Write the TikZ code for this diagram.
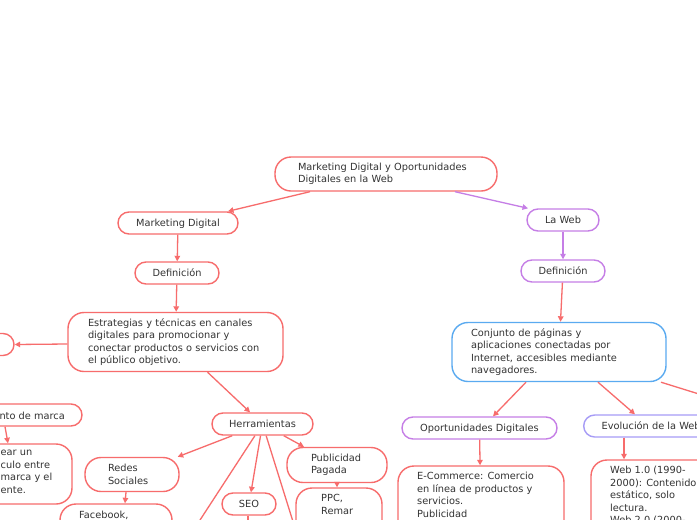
\documentclass[tikz,border=0pt]{standalone}
\usepackage{fontspec}
\setmainfont{DejaVu Sans}
\usetikzlibrary{arrows.meta}
\definecolor{cred}{HTML}{F76C6C}
\definecolor{cpur}{HTML}{C57EE6}
\definecolor{cblue}{HTML}{5AAAF0}
\definecolor{clav}{HTML}{A79CF6}
\definecolor{ctext}{HTML}{333333}
\begin{document}
\begin{tikzpicture}[x=1pt,y=-1pt,
  every node/.style={font=\fontsize{9.8}{12.5}\selectfont, text=ctext},
  basebox/.style={draw=cred, line width=1.4pt, fill=white, inner sep=0pt},
  box/.style={basebox, rounded corners=11pt, text depth=0pt},
  bigbox/.style={basebox, rounded corners=16pt},
  txt/.style={inner sep=0pt, align=left, anchor=north west},
  conn/.style={draw=cred, line width=1.3pt, -{Triangle[length=5.5pt,width=5.5pt]}},
  pconn/.style={conn, draw=cpur}
]
\fill[white] (0,0) rectangle (697,520);
\useasboundingbox (0,0) rectangle (697,520);

% left branch
\node[bigbox, minimum width=222pt, minimum height=34pt, inner xsep=23pt, text width=176pt, align=left] (root) at (386,174) {\mbox{Marketing Digital y Oportunidades}\\Digitales en la Web};
\node[box, minimum width=120pt, minimum height=22pt] (md) at (178,223) {Marketing Digital};
\node[box, minimum width=84pt, minimum height=22pt] (def1) at (177,273) {Definición};
\node[bigbox, minimum width=215pt, minimum height=59pt, inner xsep=20pt, text width=175pt, align=left] (estr) at (175.5,342) {\mbox{Estrategias y técnicas en canales}\\\mbox{digitales para promocionar y}\\\mbox{conectar productos o servicios con}\\\mbox{el público objetivo.}};
\node[box, minimum width=80pt, minimum height=22pt] (leftnode) at (-26,344.5) {};
\node[box, minimum width=142pt, minimum height=22pt] (marca) at (11,415) {};
\node[inner sep=0pt, anchor=base east] (marcat) at (65,419) {nto de marca};
\node[bigbox, minimum width=132pt, minimum height=60pt] (crear) at (6,474) {};
\node[txt] (creart) at (0.5,450.25) {ear un\\culo entre\\marca y el\\ente.};
\node[box, minimum width=101pt, minimum height=22pt] (herr) at (262.5,424) {Herramientas};
\node[bigbox, minimum width=94pt, minimum height=34pt, inner xsep=23pt, text width=48pt, align=left] (redes) at (132,474.5) {\mbox{Redes}\\\mbox{Sociales}};
\node[bigbox, minimum width=112pt, minimum height=56pt] (fb) at (116,532) {};
\node[txt] (fbt) at (79,511.25) {Facebook,};
\node[box, minimum width=54pt, minimum height=22pt] (seo) at (249,504) {SEO};
\node[bigbox, minimum width=100pt, minimum height=35pt, inner xsep=24pt, text width=52pt, align=left] (pub) at (337,465) {\mbox{Publicidad}\\\mbox{Pagada}};
\node[bigbox, minimum width=86pt, minimum height=72pt] (ppc) at (339,524) {};
\node[txt] (ppct) at (321,494.25) {PPC,\\Remar};

% right branch
\node[box, draw=cpur, minimum width=72pt, minimum height=22pt] (laweb) at (563,220) {La Web};
\node[box, draw=cpur, minimum width=84pt, minimum height=22pt] (def2) at (563,271) {Definición};
\node[bigbox, draw=cblue, minimum width=214pt, minimum height=59pt, inner xsep=19pt, text width=176pt, align=left] (conj) at (559,352) {\mbox{Conjunto de páginas y}\\\mbox{aplicaciones conectadas por}\\\mbox{Internet, accesibles mediante}\\\mbox{navegadores.}};
\node[box, draw=cpur, minimum width=155pt, minimum height=22pt] (oport) at (479.5,428) {Oportunidades Digitales};
\node[box, draw=clav, anchor=west, inner xsep=18pt, minimum height=22pt] (evol) at (583,426) {Evolución de la Web};
\node[bigbox, minimum width=166pt, minimum height=128pt] (ecom) at (481,530) {};
\node[txt] (ecomt) at (417,472.25) {E-Commerce: Comercio\\en línea de productos y\\servicios.\\Publicidad};
\node[bigbox, minimum width=178pt, minimum height=140pt] (web1) at (680,530) {};
\node[txt] (web1t) at (610,466.25) {Web 1.0 (1990-\\2000): Contenido\\estático, solo\\lectura.\\Web 2.0 (2000-};

\coordinate (hA) at (174,560);
\coordinate (hB) at (305,560);
\coordinate (seoE) at (248,560);
\coordinate (cR) at (760,413);

% connectors
\draw[conn] ([xshift=-76pt]root.south) -- ([xshift=50pt]md.north);
\draw[pconn] ([xshift=69pt]root.south) -- ([xshift=-35pt]laweb.north);
\draw[conn] (md) -- (def1);
\draw[conn] (def1) -- (estr);
\draw[conn] ([yshift=-2pt]estr.west) -- (leftnode.east);
\draw[conn] ([xshift=-6pt]marca.south) -- ([xshift=2pt]crear.north);
\draw[conn] (estr) -- (herr);
\draw[conn] (herr) -- (redes);
\draw[conn] (herr) -- (seo);
\draw[conn] (herr) -- (pub);
\draw[conn] (herr) -- (hA);
\draw[conn] (herr) -- (hB);
\draw[conn] ([xshift=-6pt]redes.south) -- ([xshift=9pt]fb.north);
\draw[conn] (pub.south) -- (pub.south |- ppc.north);
\draw[conn] ([xshift=-1pt]seo.south) -- (seoE);
\draw[pconn] (laweb) -- (def2);
\draw[conn] (def2) -- (conj);
\draw[conn] ([xshift=-33pt]conj.south) -- ([xshift=13.5pt]oport.north);
\draw[conn] ([xshift=39pt]conj.south) -- ([xshift=52pt]evol.north west);
\draw[conn] ([xshift=102pt]conj.south) -- (cR);
\draw[conn] (oport) -- (ecom);
\draw[conn] ([xshift=41pt]evol.south west) -- ([xshift=41pt]evol.south west |- web1.north);
\end{tikzpicture}
\end{document}
